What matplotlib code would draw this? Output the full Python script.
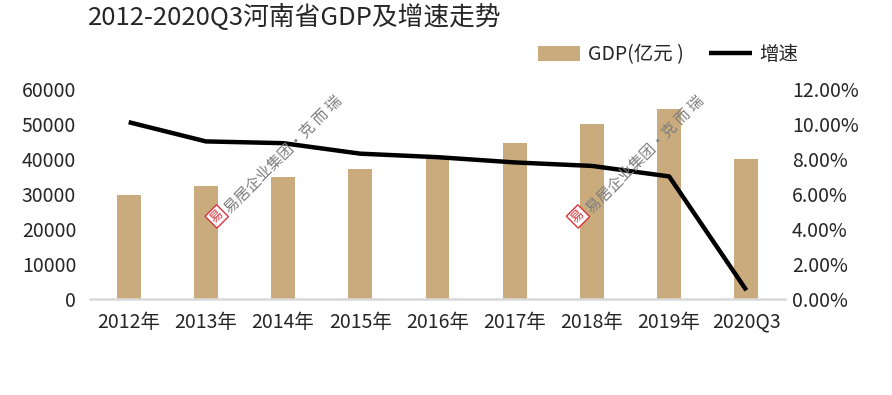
import matplotlib
matplotlib.use("Agg")
import matplotlib.pyplot as plt
import numpy as np

plt.rcParams['font.family'] = ['Noto Sans CJK SC', 'DejaVu Sans']

# data
years = ["2012年", "2013年", "2014年", "2015年", "2016年", "2017年", "2018年", "2019年", "2020Q3"]
gdp = [29599, 32156, 34938, 37002, 40160, 44553, 49936, 54259, 39876]
growth = [10.1, 9.0, 8.9, 8.3, 8.1, 7.8, 7.6, 7.0, 0.5]

bar_color = "#C9AB7D"
text_color = "#262626"

fig = plt.figure(figsize=(8.92, 3.95), dpi=100)
ax = fig.add_axes([0.101, 0.243, 0.779, 0.532])
ax2 = ax.twinx()

x = np.arange(len(years))
ax.bar(x, gdp, width=0.31, color=bar_color, label="GDP(亿元 )", zorder=2)
ax2.plot(x, growth, color="black", lw=3.2, label="增速", solid_capstyle="butt", zorder=3)

ax.set_xlim(-0.5, len(years) - 0.5)
ax.set_ylim(0, 60000)
ax.set_yticks(range(0, 60001, 10000))
ax2.set_ylim(0, 12)
ax2.set_yticks(np.arange(0, 12.1, 2))
ax2.set_yticklabels(["%.2f%%" % v for v in np.arange(0, 12.1, 2)])
ax.set_xticks(x)
ax.set_xticklabels(years)

for a in (ax, ax2):
    for s in a.spines.values():
        s.set_visible(False)
    a.tick_params(length=0, labelsize=14, colors=text_color)
ax.spines['bottom'].set_visible(True)
ax.spines['bottom'].set_color("#D9D9D9")
ax.spines['bottom'].set_linewidth(1.8)
ax.tick_params(axis='x', pad=9)
ax.tick_params(axis='y', pad=10)
ax2.tick_params(axis='y', pad=5)

fig.text(0.099, 0.955, "2012-2020Q3河南省GDP及增速走势", fontsize=18.5, color=text_color,
         ha='left', va='center')

h1, l1 = ax.get_legend_handles_labels()
h2, l2 = ax2.get_legend_handles_labels()
fig.legend(h1 + h2, l1 + l2, loc='center', bbox_to_anchor=(0.749, 0.861), ncol=2,
           frameon=False, fontsize=14, handlelength=2.2, handleheight=0.8,
           columnspacing=1.3, handletextpad=0.4, labelcolor=text_color)

# watermarks
for wx, wy in [(0.243, 0.452), (0.648, 0.452)]:
    fig.text(wx, wy, "易", fontsize=9, color="#D9343F", rotation=45, ha='center', va='center',
             bbox=dict(boxstyle='square,pad=0.15', fc='white', ec="#D9343F", lw=1))
    fig.text(wx + 0.012, wy + 0.015, "易居企业集团·克 而 瑞", fontsize=11, color="#7F7F7F",
             rotation=45, ha='left', va='center', rotation_mode='anchor')

fig.savefig("out.png", dpi=100)
